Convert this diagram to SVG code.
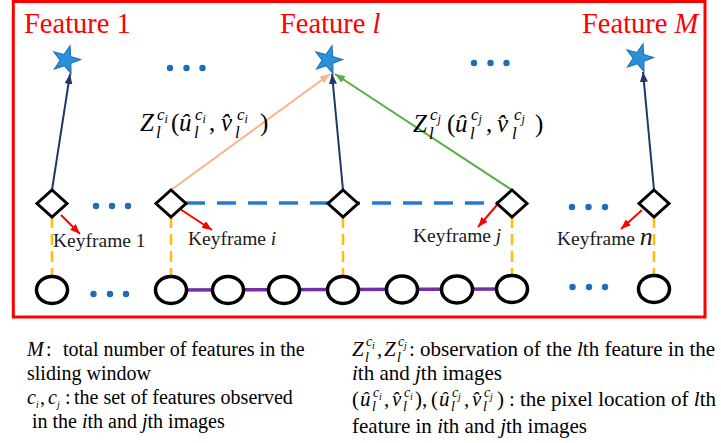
<svg xmlns="http://www.w3.org/2000/svg" width="721" height="443" viewBox="0 0 721 443">
  <style>
    .feat { font-family: "Liberation Serif", serif; font-size: 28.5px; fill: #ff0000; }
    .kf { font-family: "Liberation Serif", serif; font-size: 19.5px; fill: #1a1a1a; }
    .it { font-style: italic; }
    .m { font-family: "Liberation Serif", serif; font-style: italic; font-size: 25px; fill: #000; }
    .m .up { font-style: normal; }
    .m .s { font-size: 17px; }
    .m .ss { font-size: 12px; }
    .leg { font-family: "Liberation Serif", serif; font-size: 20px; fill: #000; }
    .legr { font-family: "Liberation Serif", serif; font-size: 21px; fill: #000; }
    .leg .s, .legr .s { font-size: 14px; font-style: italic; }
    .leg .ss, .legr .ss { font-size: 10px; font-style: italic; }
    .kfnode { fill: #fff; stroke: #000; stroke-width: 3; }
    .frame { fill: #fff; stroke: #000; stroke-width: 3.5; }
    .star { fill: #2b90da; stroke: #1f6db4; stroke-width: 1; }
    .dot { fill: #1f6cb8; }
    .nav { stroke: #1f3864; stroke-width: 2; fill: none; marker-end: url(#hNav); }
    .obs-i { stroke: #f8b48a; stroke-width: 2; fill: none; marker-end: url(#hOrg); }
    .obs-j { stroke: #55b040; stroke-width: 2; fill: none; marker-end: url(#hGrn); }
    .kfptr { stroke: #ff0000; stroke-width: 2; fill: none; marker-end: url(#hRed); }
    .link { stroke: #ffc000; stroke-width: 2.5; stroke-dasharray: 11 6; fill: none; }
    .covis { stroke: #2878d0; stroke-width: 3.5; stroke-dasharray: 19 12; fill: none; }
    .seq { stroke: #7330a3; stroke-width: 3.5; fill: none; }
  </style>
  <defs>
    <path id="starShape" transform="scale(1.05)" d="M3.86,-13.46 L4.41,-3.45 L13.99,-0.49 L4.64,3.13 L4.79,13.16 L-1.54,5.38 L-11.03,8.62 L-5.6,0.2 L-11.61,-7.83 L-1.92,-5.26 Z"/>
    <marker id="hNav" viewBox="0 0 10 8" refX="10" refY="4" markerWidth="10" markerHeight="8" markerUnits="userSpaceOnUse" orient="auto">
      <path d="M0,0 L10,4 L0,8 Z" fill="#1f3864"/>
    </marker>
    <marker id="hOrg" viewBox="0 0 10 8" refX="10" refY="4" markerWidth="10" markerHeight="8" markerUnits="userSpaceOnUse" orient="auto">
      <path d="M0,0 L10,4 L0,8 Z" fill="#f8b48a"/>
    </marker>
    <marker id="hGrn" viewBox="0 0 10 8" refX="10" refY="4" markerWidth="10" markerHeight="8" markerUnits="userSpaceOnUse" orient="auto">
      <path d="M0,0 L10,4 L0,8 Z" fill="#55b040"/>
    </marker>
    <marker id="hRed" viewBox="0 0 10 8" refX="10" refY="4" markerWidth="10" markerHeight="8" markerUnits="userSpaceOnUse" orient="auto">
      <path d="M0,0 L10,4 L0,8 Z" fill="#ff0000"/>
    </marker>
  </defs>

  <rect x="0" y="0" width="721" height="443" fill="#fff"/>

  <!-- sliding window border -->
  <rect x="13.3" y="1.5" width="691.7" height="315.5" fill="none" stroke="#ff0000" stroke-width="3"/>

  <!-- feature titles -->
  <text class="feat" x="24" y="33">Feature 1</text>
  <text class="feat" x="280" y="33">Feature <tspan class="it">l</tspan></text>
  <text class="feat" x="582" y="33">Feature <tspan class="it">M</tspan></text>

  <!-- ellipsis dots -->
  <g id="ellipses">
    <circle class="dot" cx="170" cy="68" r="3.2"/><circle class="dot" cx="186.5" cy="68" r="3.2"/><circle class="dot" cx="202.5" cy="68" r="3.2"/>
    <circle class="dot" cx="474" cy="63" r="3.2"/><circle class="dot" cx="490.5" cy="63" r="3.2"/><circle class="dot" cx="506.5" cy="63" r="3.2"/>
    <circle class="dot" cx="96" cy="206" r="3.2"/><circle class="dot" cx="112" cy="206" r="3.2"/><circle class="dot" cx="128" cy="206" r="3.2"/>
    <circle class="dot" cx="572" cy="207" r="3.2"/><circle class="dot" cx="588.5" cy="207" r="3.2"/><circle class="dot" cx="605" cy="207" r="3.2"/>
    <circle class="dot" cx="93.5" cy="294" r="3.2"/><circle class="dot" cx="110" cy="294" r="3.2"/><circle class="dot" cx="126" cy="294" r="3.2"/>
    <circle class="dot" cx="572.5" cy="287" r="3.2"/><circle class="dot" cx="589" cy="287" r="3.2"/><circle class="dot" cx="605" cy="287" r="3.2"/>
  </g>

  <!-- connectors -->
  <g id="connectors">
    <line class="seq" x1="171" y1="290" x2="512" y2="289"/>
    <line class="covis" x1="186" y1="203" x2="497" y2="203"/>
    <line class="link" x1="52" y1="217" x2="52" y2="277"/>
    <line class="link" x1="171" y1="217" x2="171" y2="277"/>
    <line class="link" x1="343" y1="217" x2="343" y2="277"/>
    <line class="link" x1="512" y1="217" x2="512" y2="276"/>
    <line class="link" x1="654" y1="217" x2="654" y2="276"/>
    <line class="nav" x1="52" y1="190" x2="70" y2="74"/>
    <line class="nav" x1="343" y1="190" x2="332" y2="74"/>
    <line class="nav" x1="654" y1="190" x2="643" y2="72"/>
    <line class="obs-i" x1="171" y1="190" x2="330" y2="74"/>
    <line class="obs-j" x1="512" y1="190" x2="335" y2="74"/>
    <line class="kfptr" x1="61" y1="215" x2="80" y2="234"/>
    <line class="kfptr" x1="180" y1="209" x2="212" y2="230"/>
    <line class="kfptr" x1="497" y1="205" x2="478" y2="227"/>
    <line class="kfptr" x1="642" y1="210" x2="621" y2="229"/>
  </g>

  <!-- landmarks -->
  <g id="feature-1"><use href="#starShape" class="star" x="66" y="60"/></g>
  <g id="feature-l"><use href="#starShape" class="star" x="328" y="60"/></g>
  <g id="feature-M"><use href="#starShape" class="star" x="639" y="58"/></g>

  <!-- keyframes -->
  <g id="keyframe-1">
    <path class="kfnode" d="M52,190 L67,203.5 L52,217 L37,203.5 Z"/>
    <text class="kf" x="53" y="247">Keyframe 1</text>
  </g>
  <g id="keyframe-i">
    <path class="kfnode" d="M171,190 L186,203.5 L171,217 L156,203.5 Z"/>
    <text class="kf" x="188" y="245">Keyframe <tspan class="it">i</tspan></text>
  </g>
  <g id="keyframe-l">
    <path class="kfnode" d="M343,190 L358,203.5 L343,217 L328,203.5 Z"/>
  </g>
  <g id="keyframe-j">
    <path class="kfnode" d="M512,190 L527,203.5 L512,217 L497,203.5 Z"/>
    <text class="kf" x="413" y="242">Keyframe <tspan class="it">j</tspan></text>
  </g>
  <g id="keyframe-n">
    <path class="kfnode" d="M654,190 L669,203.5 L654,217 L639,203.5 Z"/>
    <text class="kf" x="557" y="245" font-size="14.5px">Keyframe <tspan class="it" font-size="26px">n</tspan></text>
  </g>

  <!-- image frames -->
  <g id="frame-1"><ellipse class="frame" cx="52" cy="290" rx="15.5" ry="13.5"/></g>
  <g id="frame-i"><ellipse class="frame" cx="171" cy="290" rx="15.5" ry="13.5"/></g>
  <g id="frame-a"><ellipse class="frame" cx="228" cy="290" rx="15.5" ry="13.5"/></g>
  <g id="frame-b"><ellipse class="frame" cx="284" cy="290" rx="15.5" ry="13.5"/></g>
  <g id="frame-l"><ellipse class="frame" cx="343" cy="290" rx="15.5" ry="13.5"/></g>
  <g id="frame-c"><ellipse class="frame" cx="402" cy="289.5" rx="15.5" ry="13.5"/></g>
  <g id="frame-d"><ellipse class="frame" cx="457" cy="289.5" rx="15.5" ry="13.5"/></g>
  <g id="frame-j"><ellipse class="frame" cx="512" cy="289" rx="15.5" ry="13.5"/></g>
  <g id="frame-n"><ellipse class="frame" cx="654" cy="289" rx="15.5" ry="13.5"/></g>

  <!-- observation labels -->
  <text class="m">
    <tspan x="140" y="131">Z</tspan>
    <tspan class="s" x="156" y="138">l</tspan>
    <tspan class="s" x="157" y="120">c</tspan>
    <tspan class="ss" x="164.5" y="123">i</tspan>
    <tspan class="up" x="171" y="131">(</tspan>
    <tspan x="179" y="131">û</tspan>
    <tspan class="s" x="194" y="138">l</tspan>
    <tspan class="s" x="195" y="120">c</tspan>
    <tspan class="ss" x="202.5" y="123">i</tspan>
    <tspan class="up" x="209" y="131">,</tspan>
    <tspan x="221" y="131">v&#x302;</tspan>
    <tspan class="s" x="235" y="138">l</tspan>
    <tspan class="s" x="237" y="120">c</tspan>
    <tspan class="ss" x="244.5" y="123">i</tspan>
    <tspan class="up" x="260" y="131">)</tspan>
  </text>
  <text class="m">
    <tspan x="413" y="132">Z</tspan>
    <tspan class="s" x="429" y="139">l</tspan>
    <tspan class="s" x="430" y="120">c</tspan>
    <tspan class="ss" x="437.5" y="123">j</tspan>
    <tspan class="up" x="447" y="132">(</tspan>
    <tspan x="455" y="132">û</tspan>
    <tspan class="s" x="470" y="139">l</tspan>
    <tspan class="s" x="471" y="120">c</tspan>
    <tspan class="ss" x="478.5" y="123">j</tspan>
    <tspan class="up" x="486" y="132">,</tspan>
    <tspan x="497" y="132">v&#x302;</tspan>
    <tspan class="s" x="512" y="139">l</tspan>
    <tspan class="s" x="514" y="120">c</tspan>
    <tspan class="ss" x="521.5" y="123">j</tspan>
    <tspan class="up" x="535" y="132">)</tspan>
  </text>

  <!-- legend, left column -->
  <text class="leg" x="27" y="356"><tspan class="it">M</tspan><tspan x="46">:</tspan><tspan x="63">total number of features in the</tspan></text>
  <text class="leg" x="27" y="380">sliding window</text>
  <text class="leg" y="404">
    <tspan class="it" x="27">c</tspan><tspan class="ss" x="36" y="408">i</tspan><tspan x="40" y="404">,</tspan>
    <tspan class="it" x="48">c</tspan><tspan class="ss" x="57" y="408">j</tspan><tspan x="65" y="404">:</tspan><tspan x="74">the set of features observed</tspan>
  </text>
  <text class="leg" x="32" y="428">in the <tspan class="it">i</tspan>th and <tspan class="it">j</tspan>th images</text>

  <!-- legend, right column -->
  <text class="legr" y="356">
    <tspan class="it" x="352">Z</tspan><tspan class="s" x="365" y="362">l</tspan><tspan class="s" x="366" y="346">c</tspan><tspan class="ss" x="372" y="349">i</tspan>
    <tspan x="377" y="356">,</tspan>
    <tspan class="it" x="384">Z</tspan><tspan class="s" x="397" y="362">l</tspan><tspan class="s" x="398" y="346">c</tspan><tspan class="ss" x="404" y="349">j</tspan>
    <tspan x="409" y="356">: observation of the </tspan><tspan class="it">l</tspan><tspan>th feature in the</tspan>
  </text>
  <text class="legr" x="352" y="380"><tspan class="it">i</tspan>th and <tspan class="it">j</tspan>th images</text>
  <text class="legr" y="406">
    <tspan x="352">(</tspan><tspan class="it" x="360">û</tspan><tspan class="s" x="372" y="411">l</tspan><tspan class="s" x="373" y="397">c</tspan><tspan class="ss" x="379" y="400">i</tspan>
    <tspan x="384" y="406">,</tspan><tspan class="it" x="392">v&#x302;</tspan><tspan class="s" x="403" y="411">l</tspan><tspan class="s" x="404" y="397">c</tspan><tspan class="ss" x="410" y="400">i</tspan>
    <tspan x="415" y="406">),</tspan>
    <tspan x="431">(</tspan><tspan class="it" x="439">û</tspan><tspan class="s" x="451" y="411">l</tspan><tspan class="s" x="452" y="397">c</tspan><tspan class="ss" x="458" y="400">j</tspan>
    <tspan x="464" y="406">,</tspan><tspan class="it" x="472">v&#x302;</tspan><tspan class="s" x="483" y="411">l</tspan><tspan class="s" x="484" y="397">c</tspan><tspan class="ss" x="490" y="400">j</tspan>
    <tspan x="497" y="406">)</tspan>
    <tspan x="509">:</tspan><tspan x="520">the pixel location of </tspan><tspan class="it">l</tspan><tspan>th</tspan>
  </text>
  <text class="legr" x="352" y="433">feature in <tspan class="it">i</tspan>th and <tspan class="it">j</tspan>th images</text>
</svg>
